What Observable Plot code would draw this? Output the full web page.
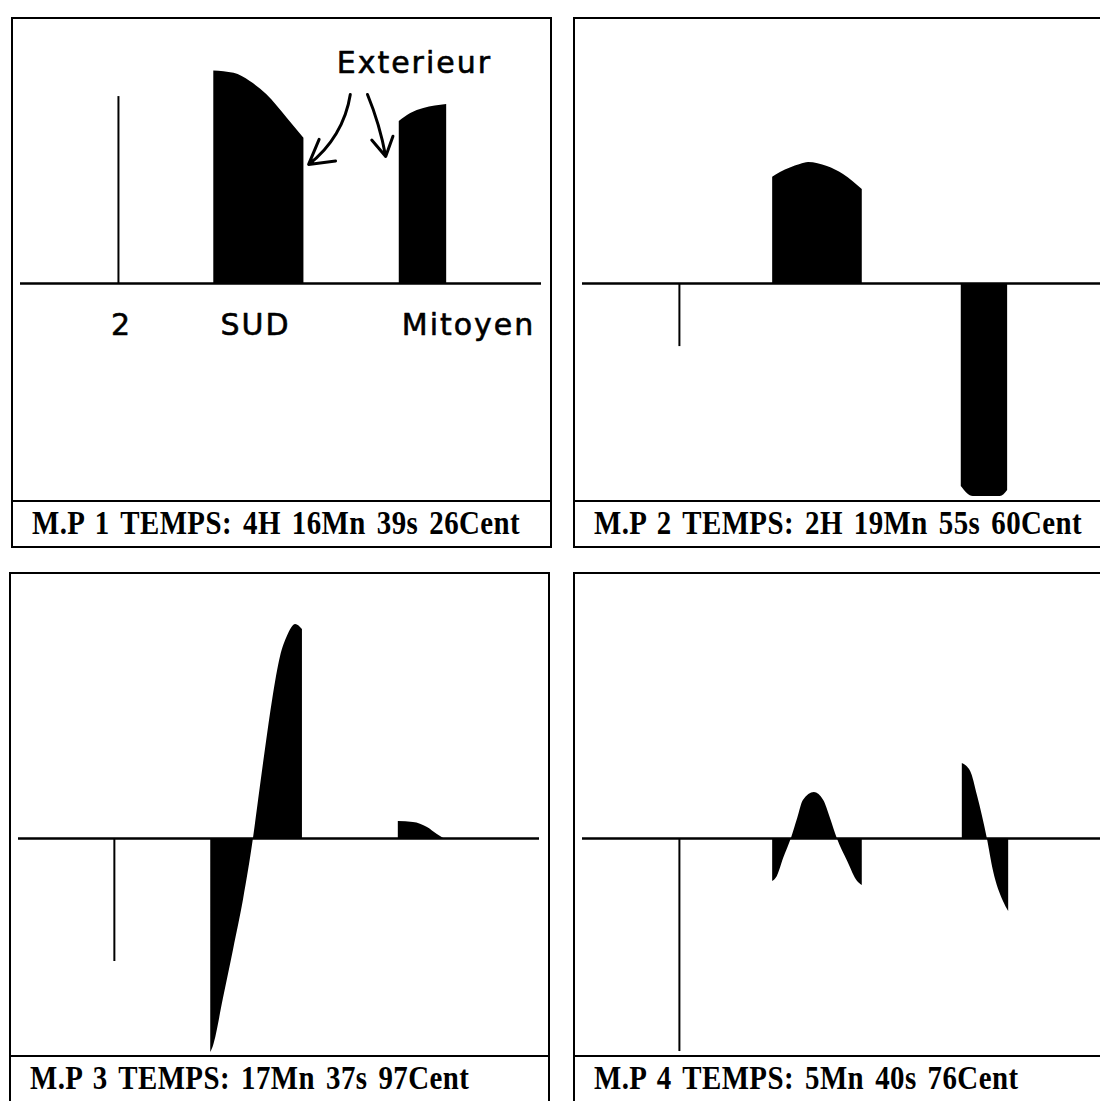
<!DOCTYPE html>
<html>
<head>
<meta charset="utf-8">
<script src="https://cdn.jsdelivr.net/npm/d3@7"></script>
<script src="https://cdn.jsdelivr.net/npm/@observablehq/plot@0.6"></script>
<style>
  html, body { margin: 0; padding: 0; background: #fff; overflow: hidden; width: 1100px; height: 1101px; }
  .panel { position: absolute; width: 537px; border: 2px solid #000; background: #fff; }
  .panel svg { display: block; }
  .plotarea text { letter-spacing: 2px; }
  .cap { border-top: 2px solid #000; height: 44px; }
</style>
</head>
<body>
<script>
// ---------- DATA ----------
const captions = [
  "M.P 1 TEMPS: 4H 16Mn 39s 26Cent",
  "M.P 2 TEMPS: 2H 19Mn 55s 60Cent",
  "M.P 3 TEMPS: 17Mn 37s 97Cent",
  "M.P 4 TEMPS: 5Mn 40s 76Cent"
];

// probe stem "2" for each panel
const stemX = [18.8, 18.6, 18.4, 18.6];
const stemY = [70.8, -23.9, -46.6, -80.7];

// M.P 1
const mp1SudX = [37.1, 41.0, 44.1, 47.3, 51.2, 54.4];
const mp1SudY = [80.5, 79.6, 76.5, 71.5, 62.6, 55.0];
const mp1MitX = [72.7, 74.9, 77.4, 81.8];
const mp1MitY = [61.4, 64.4, 66.3, 67.8];
// M.P 2
const mp2SudX = [36.5, 38.0, 41.8, 43.4, 47.0, 50.1, 53.7];
const mp2SudY = [40.2, 42.0, 45.1, 45.8, 44.3, 41.3, 35.6];
const mp2MitX = [72.7, 75.0, 80.2, 81.6];
const mp2MitY = [-76.9, -80.7, -80.7, -78.4];
// M.P 3
const mp3SudX = [36.9, 37.4, 39.3, 41.3, 43.2, 45.1, 46.1, 47.4, 48.8, 50.3, 51.6, 53.2, 54.5];
const mp3SudY = [-81.1, -78.8, -61.0, -42.0, -23.1, 0, 14.8, 33.7, 52.7, 68.9, 76.5, 81.1, 79.2];
const mp3MitX = [72.9, 75.8, 78.5, 80.4, 81.6];
const mp3MitY = [6.4, 6.1, 4.2, 1.5, 0];
// M.P 4
const mp4SudX = [36.5, 37.4, 38.6, 40.1, 41.3, 42.4, 44.5, 46.3, 47.6, 48.9, 50.9, 52.8, 53.7];
const mp4SudY = [-16.3, -14.4, -7.6, 0, 7.6, 14.4, 17.4, 14.4, 7.6, 0, -8.7, -16.3, -17.8];
const mp4MitX = [72.9, 74.5, 75.8, 77.7, 78.9, 80.8, 81.8];
const mp4MitY = [28.4, 25.4, 16.3, 0, -12.5, -23.9, -27.7];

// handwritten annotations (panel 1)
const annoText = ["Exterieur", "2", "SUD", "Mitoyen"];
const annoX = [75.6, 19.4, 45.1, 86.0];
const annoY = [83.2, -15.7, -15.7, -15.7];
const arrowX1 = [63.3, 66.6];
const arrowY1 = [71.6, 71.6];
const arrowX2 = [55.3, 70.1];
const arrowY2 = [45.1, 48.1];

// ---------- LAYOUT ----------
const X_DOMAIN = [0, 100];
const Y_DOMAIN = [-82.2, 100];
const layout = [
  {left: 11, top: 17},
  {left: 573, top: 17},
  {left: 9, top: 572},
  {left: 573, top: 572}
];
const arrowBend = [22, 6];
const shapes = [
  [[mp1SudX, mp1SudY], [mp1MitX, mp1MitY]],
  [[mp2SudX, mp2SudY], [mp2MitX, mp2MitY]],
  [[mp3SudX, mp3SudY], [mp3MitX, mp3MitY]],
  [[mp4SudX, mp4SudY], [mp4MitX, mp4MitY]]
];

const pts = (xs, ys) => xs.map((x, i) => ({x, y: ys[i]}));

captions.forEach((cap, i) => {
  const div = document.createElement("div");
  div.className = "panel";
  div.style.left = layout[i].left + "px";
  div.style.top = layout[i].top + "px";
  document.body.appendChild(div);

  const marks = [
    Plot.ruleY([0], {stroke: "black", strokeWidth: 2.5}),
    ...shapes[i].map(([xs, ys]) =>
      Plot.areaY(pts(xs, ys), {x: "x", y: "y", fill: "black", curve: "monotone-x"})),
    Plot.ruleX([{x: stemX[i], y: stemY[i]}], {x: "x", y1: 0, y2: "y", stroke: "black", strokeWidth: 2})
  ];
  if (i === 0) {
    marks.push(
      Plot.text(annoText.map((t, k) => ({t, x: annoX[k], y: annoY[k]})), {
        x: "x", y: "y", text: "t", fontSize: 30, fontFamily: "DejaVu Sans",
        fill: "black", stroke: "black", strokeWidth: 0.6
      }),
      ...arrowX1.map((x1, k) => Plot.arrow([{x1, y1: arrowY1[k], x2: arrowX2[k], y2: arrowY2[k]}], {
        x1: "x1", y1: "y1", x2: "x2", y2: "y2", bend: arrowBend[k],
        stroke: "black", strokeWidth: 3, headLength: 15
      }))
    );
  }

  const svg = Plot.plot({
    width: 537,
    height: 481,
    marginLeft: 7,
    marginRight: 9,
    marginTop: 0,
    marginBottom: 0,
    className: "plotarea",
    style: {background: "white", overflow: "visible"},
    x: {domain: X_DOMAIN, axis: null},
    y: {domain: Y_DOMAIN, axis: null},
    marks
  });
  div.appendChild(svg);

  const capDiv = document.createElement("div");
  capDiv.className = "cap";
  div.appendChild(capDiv);
  const c = d3.select(capDiv).append("svg").attr("width", 537).attr("height", 44);
  c.append("text")
    .attr("transform", "translate(19,32) scale(0.85,1)")
    .attr("x", 0)
    .attr("y", 0)
    .attr("font-family", "Liberation Serif")
    .attr("font-weight", "bold")
    .attr("font-size", 34)
    .attr("fill", "black")
    .style("letter-spacing", "0.5px")
    .style("word-spacing", "4px")
    .style("white-space", "pre")
    .text(cap);
});
</script>
</body>
</html>
